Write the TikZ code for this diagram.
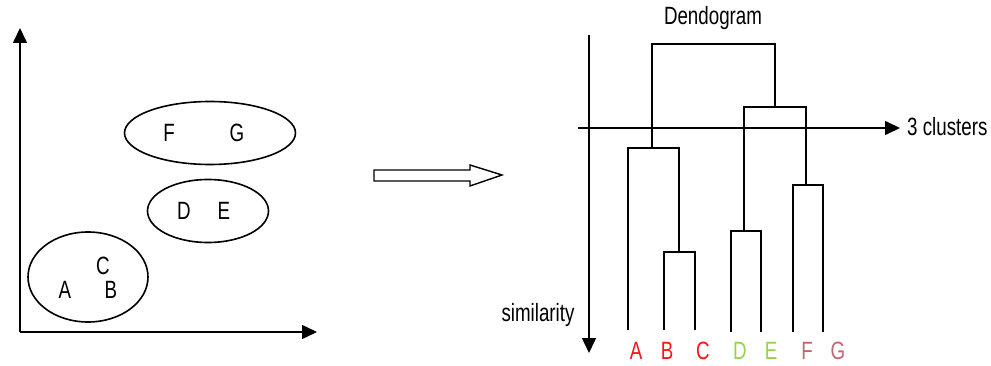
\documentclass[tikz,border=0pt]{standalone}
\usepackage{fontspec}
\setmainfont{Liberation Sans}[FakeStretch=0.75]
\usepackage{xcolor}
\definecolor{leafred}{RGB}{255,20,20}
\definecolor{leafgreen}{RGB}{150,210,80}
\definecolor{leafrose}{RGB}{195,100,110}
\usetikzlibrary{arrows.meta,positioning,shapes.geometric}

\begin{document}
\begin{tikzpicture}[x=1pt,y=-1pt,
    axis/.style={line width=1.6pt,-{Triangle[length=15pt,width=14pt]}},
    branch/.style={line width=1.6pt},
    blob/.style={ellipse,draw,line width=1.6pt,inner sep=0pt},
    lbl/.style={font=\fontsize{25}{27}\selectfont,inner sep=1pt},
    leaf/.style={lbl,anchor=base,inner sep=0pt}]
  \useasboundingbox (0,0) rectangle (991,366);
  % scatter plot
  \coordinate (O) at (20,332);
  \coordinate (xend) at (317,332);
  \coordinate (yend) at (20,28);
  \draw[axis] (O) -- (xend);
  \draw[axis] (O) -- (yend);
  \node[blob,minimum width=171pt,minimum height=63pt] (fg) at (210,133) {};
  \node[blob,minimum width=121pt,minimum height=63pt] (de) at (208,211) {};
  \node[blob,minimum width=120pt,minimum height=90pt] (abc) at (88,277) {};
  \node[lbl] (pF) at (169,133) {F};
  \node[lbl] (pG) at (237,133) {G};
  \node[lbl] (pD) at (184,211) {D};
  \node[lbl] (pE) at (224,211) {E};
  \node[lbl] (pC) at (103,266) {C};
  \node[lbl] (pA) at (65,290) {A};
  \node[lbl] (pB) at (111,290) {B};
  % hollow arrow
  \draw[line width=1.4pt] (374,170) -- (470,170) -- (470,165) -- (502,175)
    -- (470,186) -- (470,181) -- (374,181) -- cycle;
  % dendrogram
  \node[lbl] (title) at (713,18) {Dendogram};
  \coordinate (stop) at (589,35);
  \coordinate (sbot) at (589,353);
  \draw[axis] (stop) -- (sbot);
  \node[lbl] (sim) at (538,315) {similarity};
  \coordinate (cstart) at (578,128);
  \coordinate (cend) at (900,128);
  \draw[axis] (cstart) -- (cend);
  \node[lbl,anchor=west] (ncl) at (906,127) {3 clusters};
  \coordinate (lA) at (628,330);
  \coordinate (lB) at (664,330);
  \coordinate (lC) at (695,330);
  \coordinate (lD) at (731,332);
  \coordinate (lE) at (761,332);
  \coordinate (lF) at (793,332);
  \coordinate (lG) at (823,332);
  \coordinate (mBC) at (679,252);
  \coordinate (mABC) at (652,148);
  \coordinate (mDE) at (744,231);
  \coordinate (mFG) at (806,185);
  \coordinate (mDEFG) at (775,107);
  \coordinate (mroot) at (713,44);
  \draw[branch] (lB) |- (mBC) -| (lC);
  \draw[branch] (lA) |- (mABC) -| (mBC);
  \draw[branch] (lD) |- (mDE) -| (lE);
  \draw[branch] (lF) |- (mFG) -| (lG);
  \draw[branch] (mDE) |- (mDEFG) -| (mFG);
  \draw[branch] (mABC) |- (mroot) -| (mDEFG);
  \node[leaf,text=leafred] (A) at (636,359) {A};
  \node[leaf,text=leafred] (B) at (667,359) {B};
  \node[leaf,text=leafred] (C) at (703,359) {C};
  \node[leaf,text=leafgreen] (D) at (740,359) {D};
  \node[leaf,text=leafgreen] (E) at (771,359) {E};
  \node[leaf,text=leafrose] (F) at (807,359) {F};
  \node[leaf,text=leafrose] (G) at (838,359) {G};
\end{tikzpicture}
\end{document}
